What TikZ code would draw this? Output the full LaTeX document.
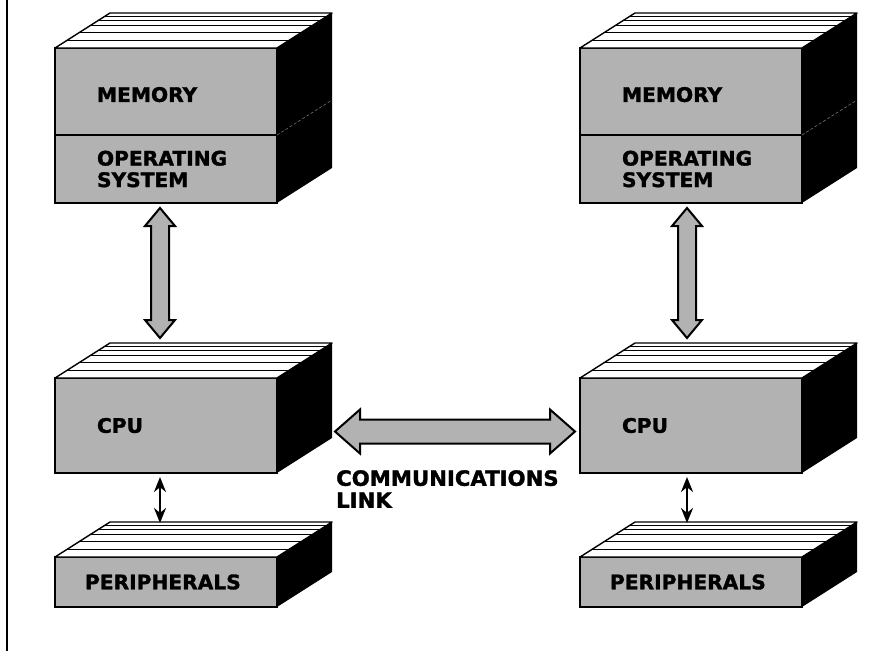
\documentclass[tikz,border=0pt]{standalone}
\usepackage{fontspec}
\newfontfamily\heavy{DejaVu Sans Bold}[FakeStretch=1.01, FakeBold=1.6]
\usetikzlibrary{arrows.meta,positioning,calc}

% top and side faces of a block, #1 = upper front node, #2 = lower front node
\newcommand{\slab}[2]{%
  \coordinate (#1-bl) at ([shift={(55,-35)}]#1.north west);
  \coordinate (#1-br) at ([shift={(55,-35)}]#1.north east);
  \coordinate (#2-sb) at ([shift={(55,-35)}]#2.south east);
  \fill (#1.north east) -- (#1-br) -- (#2-sb) -- (#2.south east) -- cycle;
  \filldraw[fill=white, line width=1.4pt, line join=round]
    (#1.north west) -- (#1-bl) -- (#1-br) -- (#1.north east) -- cycle;
  \foreach \f in {0.22,0.45,0.65,0.78,0.9}
    \draw[line width=0.9pt] ($(#1.north west)!\f!(#1-bl)$) -- ($(#1.north east)!\f!(#1-br)$);
}

\begin{document}
\begin{tikzpicture}[x=1pt, y=-1pt,
  front/.style={draw, line width=1.8pt, fill=black!30, minimum width=222, inner sep=0pt,
                outer sep=0pt, text width=138, align=left,
                font=\heavy\fontsize{20}{21.5}\selectfont},
  fat/.style={draw, line width=2pt, fill=black!30, line join=miter},
  hollowv/.style={to path={let \p1=(\tikztostart), \p2=(\tikztotarget) in
    (\x1,\y1) -- ({\x1+15pt},{\y1-18pt}) -- ({\x1+9pt},{\y1-18pt})
    -- ({\x2+9pt},{\y2+18pt}) -- ({\x2+15pt},{\y2+18pt}) -- (\x2,\y2)
    -- ({\x2-15pt},{\y2+18pt}) -- ({\x2-9pt},{\y2+18pt})
    -- ({\x1-9pt},{\y1-18pt}) -- ({\x1-15pt},{\y1-18pt}) -- cycle}},
  hollowh/.style={to path={let \p1=(\tikztostart), \p2=(\tikztotarget) in
    (\x1,\y1) -- ({\x1+25pt},{\y1+22pt}) -- ({\x1+25pt},{\y1+12pt})
    -- ({\x2-25pt},{\y2+12pt}) -- ({\x2-25pt},{\y2+22pt}) -- (\x2,\y2)
    -- ({\x2-25pt},{\y2-22pt}) -- ({\x2-25pt},{\y2-12pt})
    -- ({\x1+25pt},{\y1-12pt}) -- ({\x1+25pt},{\y1-22pt}) -- cycle}},
  link/.style={line width=2.4pt, {Stealth[length=15pt,width=12pt]}-{Stealth[length=15pt,width=12pt]}}]
  \useasboundingbox (0,0) rectangle (896,651);
  \draw[line width=2pt] (7,0) -- (7,651);

  % left computer
  \node[front, minimum height=87, text height=21pt, anchor=north west] (memL) at (55,48) {MEMORY};
  \node[front, minimum height=68, below=0pt of memL] (osL) {OPERATING\\SYSTEM};
  \node[front, minimum height=95, below=175pt of osL] (cpuL) {CPU};
  \node[front, minimum height=50, text width=162, below=84pt of cpuL] (perL) {PERIPHERALS};

  % right computer
  \node[front, minimum height=87, text height=21pt, right=303pt of memL] (memR) {MEMORY};
  \node[front, minimum height=68, below=0pt of memR] (osR) {OPERATING\\SYSTEM};
  \node[front, minimum height=95, below=175pt of osR] (cpuR) {CPU};
  \node[front, minimum height=50, text width=162, below=84pt of cpuR] (perR) {PERIPHERALS};

  \slab{memL}{osL} \slab{cpuL}{cpuL} \slab{perL}{perL}
  \slab{memR}{osR} \slab{cpuR}{cpuR} \slab{perR}{perR}
  \draw[densely dashed, black!55, line width=0.6pt] (osL.north east) -- ++(55,-35);
  \draw[densely dashed, black!55, line width=0.6pt] (osR.north east) -- ++(55,-35);

  \draw[fat, hollowv] ([xshift=-6pt,yshift=-5pt]osL.south) to ([xshift=-6pt,yshift=40pt]cpuL.north);
  \draw[fat, hollowv] ([xshift=-4pt,yshift=-5pt]osR.south) to ([xshift=-4pt,yshift=40pt]cpuR.north);
  \draw[link] ([xshift=-6pt,yshift=-4pt]cpuL.south) -- ([xshift=-6pt,yshift=34pt]perL.north);
  \draw[link] ([xshift=-4pt,yshift=-4pt]cpuR.south) -- ([xshift=-4pt,yshift=34pt]perR.north);

  \draw[fat, hollowh] ([xshift=58pt,yshift=-6pt]cpuL.east) to ([xshift=-5pt,yshift=-6pt]cpuR.west);
  \node[font=\heavy\fontsize{21}{22}\selectfont, align=left, inner sep=0pt, anchor=north west]
    (linkL) at (336,470) {COMMUNICATIONS\\LINK};
\end{tikzpicture}
\end{document}
